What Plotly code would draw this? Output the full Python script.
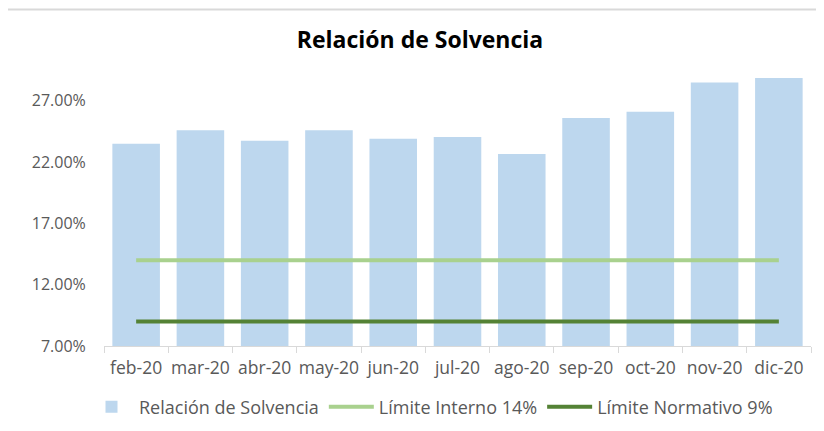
import plotly.graph_objects as go

months = ["feb-20", "mar-20", "abr-20", "may-20", "jun-20", "jul-20",
          "ago-20", "sep-20", "oct-20", "nov-20", "dic-20"]
solvencia = [23.5, 24.6, 23.75, 24.6, 23.9, 24.05, 22.65, 25.6, 26.1, 28.5, 28.85]
limite_interno = [14.0] * len(months)
limite_normativo = [9.0] * len(months)
y_ticks = [7, 12, 17, 22, 27]
y_tick_text = [f"{v:.2f}%" for v in y_ticks]

FONT = "'Open Sans', 'Noto Sans', sans-serif"
GRAY = "#595959"

# page body has an 8px margin; compensate so the figure fills the window
OFF = 8
W, H = 824 - OFF, 431 - OFF
L, R, T, B = 104 - OFF, 13, 64 - OFF, 85
pw, ph = W - L - R, H - T - B

fig = go.Figure()
fig.add_trace(go.Bar(x=months, y=solvencia, name="Relación de Solvencia",
                     marker=dict(color="#BDD7EE", line=dict(width=0))))
fig.add_trace(go.Scatter(x=months, y=limite_interno, name="Límite Interno 14%",
                         mode="lines", line=dict(color="#A9D18E", width=4)))
fig.add_trace(go.Scatter(x=months, y=limite_normativo, name="Límite Normativo 9%",
                         mode="lines", line=dict(color="#548235", width=4)))

fig.update_layout(
    width=W, height=H,
    margin=dict(l=L, r=R, t=T, b=B, autoexpand=False),
    paper_bgcolor="white", plot_bgcolor="white",
    font=dict(family=FONT, color=GRAY, size=16),
    title=dict(text="<b>Relación de Solvencia</b>", x=(420 - OFF - L) / pw, xref="paper",
               xanchor="center", y=1 - (40 - OFF) / H, yanchor="middle",
               font=dict(family=FONT, size=23, color="#000000")),
    bargap=0.26,
    showlegend=True,
    legend=dict(orientation="h", x=(431 - OFF - L) / pw, xanchor="center",
                y=-(407 - OFF - (T + ph)) / ph, yanchor="middle",
                font=dict(family=FONT, size=18, color=GRAY),
                itemwidth=45, traceorder="normal"),
    xaxis=dict(type="category", showline=True, linecolor="#D9D9D9", linewidth=1,
               ticks="outside", tickson="boundaries", ticklen=6, tickcolor="#D9D9D9",
               ticklabelstandoff=6, tickangle=0, automargin=False,
               showgrid=False, tickfont=dict(family=FONT, size=17.5, color=GRAY)),
    yaxis=dict(range=[7, 30], tickvals=y_ticks, ticktext=y_tick_text,
               showgrid=False, showline=False, zeroline=False, automargin=False,
               ticks="outside", ticklen=14, tickcolor="rgba(0,0,0,0)",
               tickfont=dict(family=FONT, size=16, color=GRAY)),
    shapes=[dict(type="line", xref="paper", yref="paper",
                 x0=-L / pw, x1=1 + R / pw,
                 y0=1 + (T - 1.5) / ph, y1=1 + (T - 1.5) / ph,
                 line=dict(color="#D9D9D9", width=2))],
)

fig.write_html("out.html")
